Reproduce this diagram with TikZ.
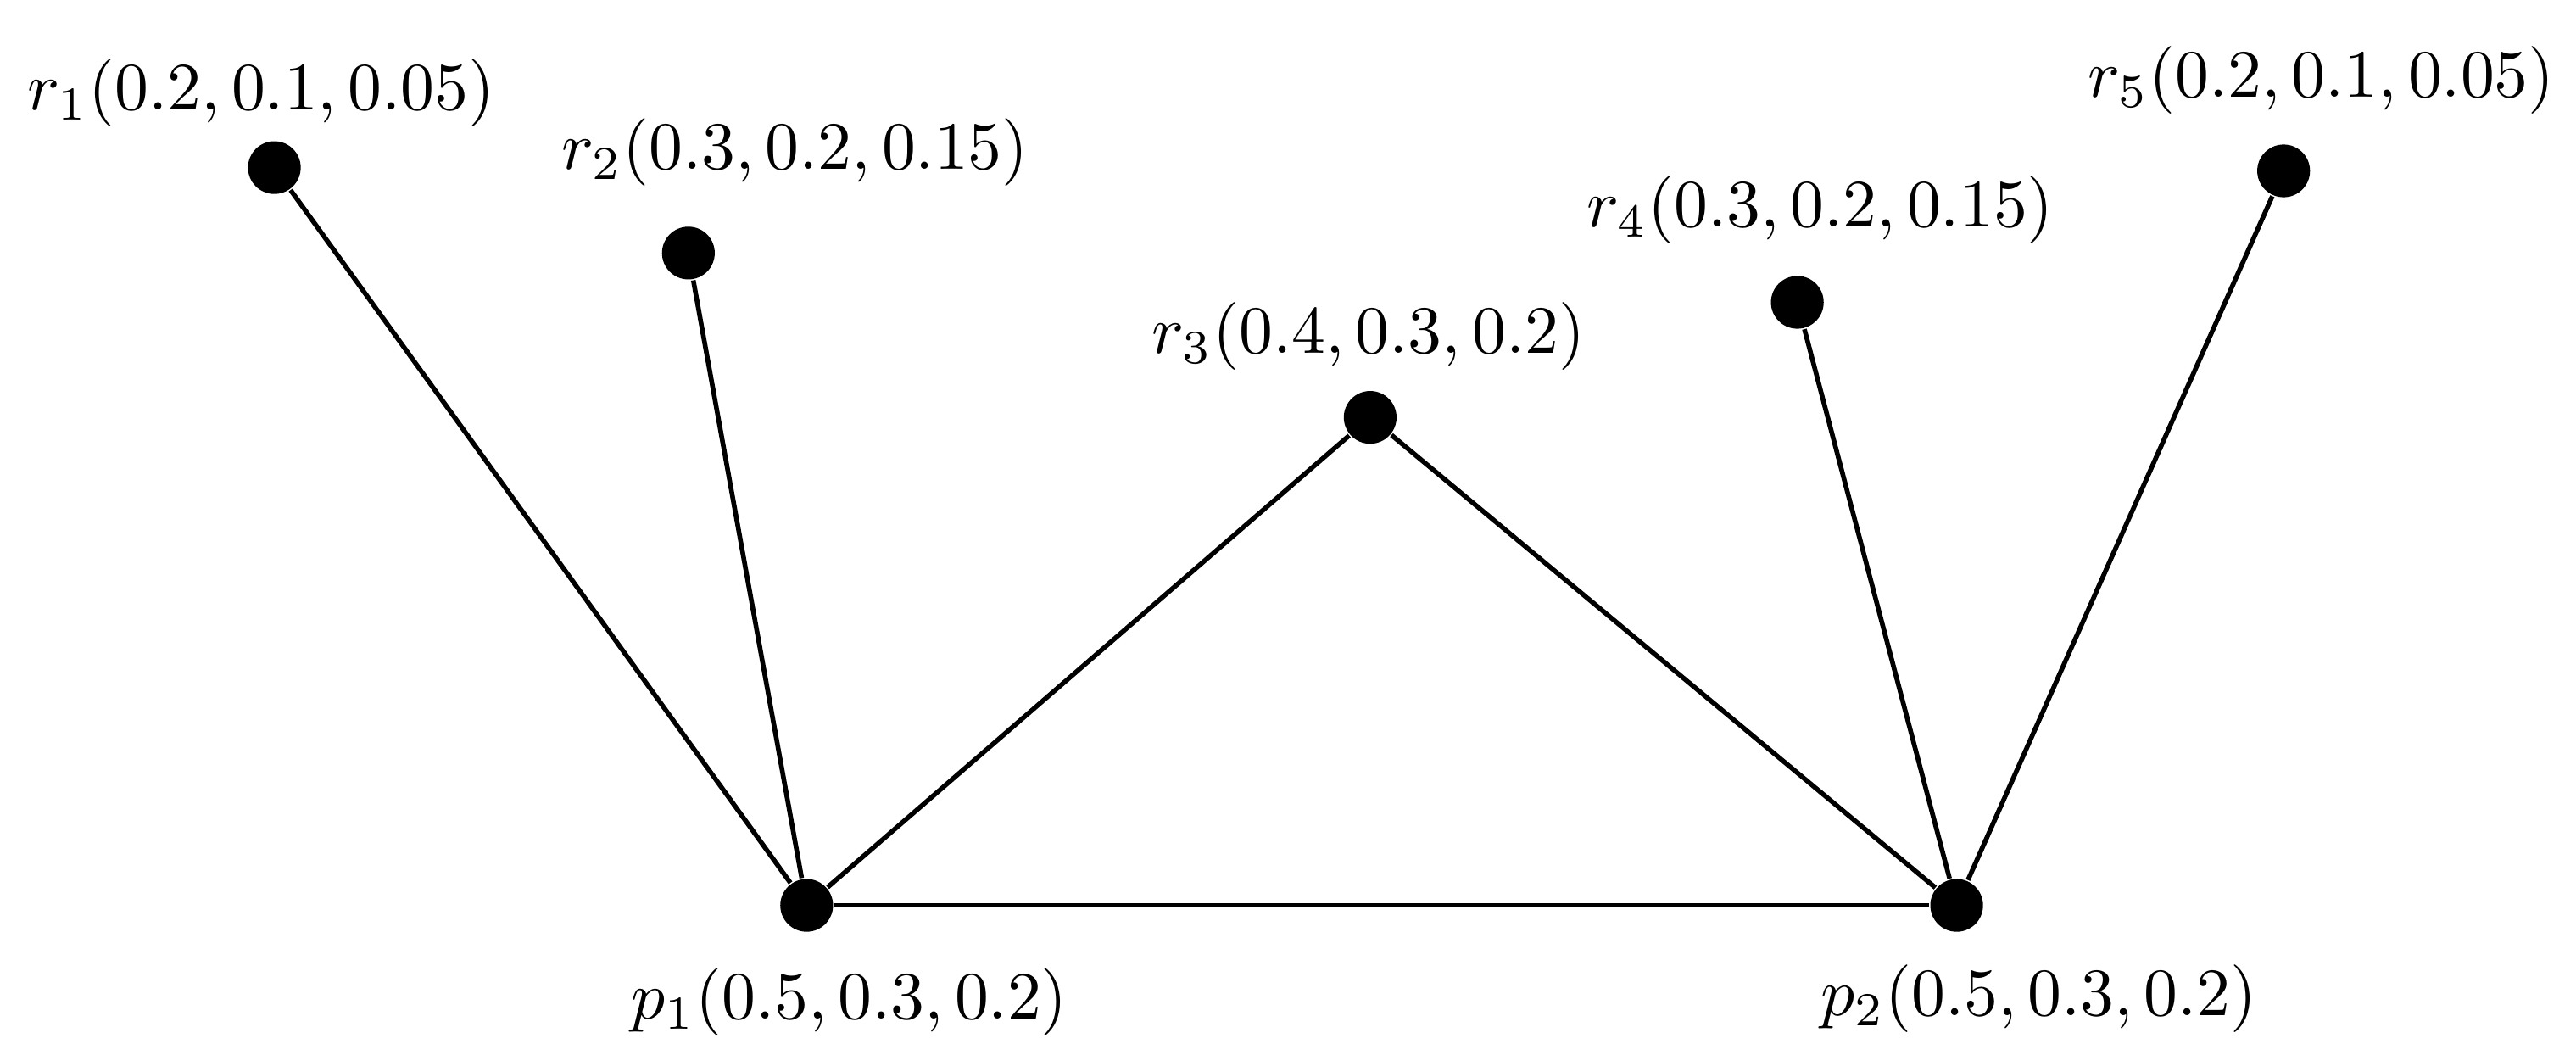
\documentclass[tikz,border=0pt]{standalone}
\begin{document}
\begin{tikzpicture}[x=0.243pt,y=-0.243pt,
  dot/.style={circle,fill=black,inner sep=0pt,minimum size=7.8pt},
  lbl/.style={anchor=base,inner sep=0pt,font=\fontsize{10.35pt}{12pt}\selectfont},
  edge/.style={line width=0.7pt}]
\useasboundingbox (0,0) rectangle (1568,642);
\node[dot] (r1) at (167,102) {};
\node[dot] (r2) at (419,154) {};
\node[dot] (r3) at (834,254) {};
\node[dot] (r4) at (1094,184) {};
\node[dot] (r5) at (1390,104) {};
\node[dot] (p1) at (491,551) {};
\node[dot] (p2) at (1191,551) {};
\node[lbl] (lr1) at (159,67) {$r_1(0.2,0.1,0.05)$};
\node[lbl] (lr2) at (484,103) {$r_2(0.3,0.2,0.15)$};
\node[lbl] (lr3) at (833,215) {$r_3(0.4,0.3,0.2)$};
\node[lbl] (lr4) at (1108,138) {$r_4(0.3,0.2,0.15)$};
\node[lbl] (lr5) at (1413,59) {$r_5(0.2,0.1,0.05)$};
\node[lbl] (lp1) at (517,620) {$p_1(0.5,0.3,0.2)$};
\node[lbl] (lp2) at (1241,618) {$p_2(0.5,0.3,0.2)$};
\draw[edge] (r1) -- (p1);
\draw[edge] (r2) -- (p1);
\draw[edge] (r3) -- (p1);
\draw[edge] (r3) -- (p2);
\draw[edge] (r4) -- (p2);
\draw[edge] (r5) -- (p2);
\draw[edge] (p1) -- (p2);
\end{tikzpicture}
\end{document}
